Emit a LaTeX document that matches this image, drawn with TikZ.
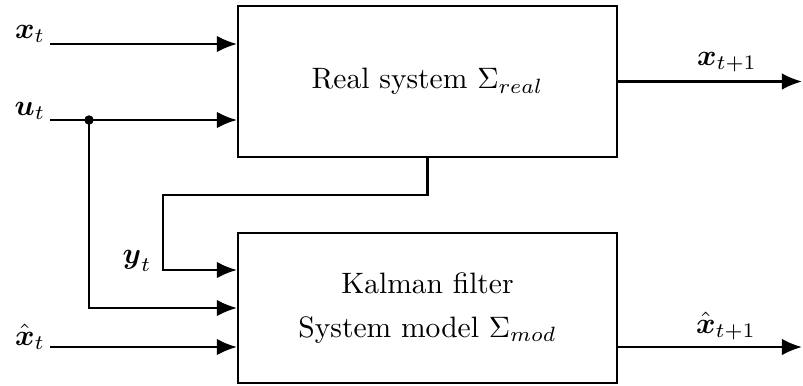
\documentclass[tikz,border=0pt]{standalone}
\usepackage{amsmath}
\usepackage{amssymb}
\usepackage{tikz}
\usetikzlibrary{arrows.meta}

\begin{document}
\begin{tikzpicture}[x=0.0119cm,y=-0.0119cm,line width=0.75pt,
    block/.style={draw,minimum width=4.51cm,minimum height=1.79cm},
    sig/.style={-{Latex[length=6.8pt,width=5.6pt]}}]
  \useasboundingbox (0,0) rectangle (803,385);
      % the two blocks
      \node[block] (real) at (427.5,81.5) {Real system $\Sigma_{real}$};
      \node[block,align=center] (kf) at (427.5,308) {Kalman filter\\[3pt] System model $\Sigma_{mod}$};
      % free ends of the signals
      \coordinate (xin) at (50,44);
      \coordinate (uin) at (50,120);
      \coordinate (usplit) at (89,120);
      \coordinate (ybend) at (163,195);
      \coordinate (yin) at (163,270);
      \coordinate (xhin) at (50,347);
      \coordinate (xout) at (802,81.5);
      \coordinate (xhout) at (802,347);
      % inputs
      \draw[sig] (xin) -- (xin -| real.west);
      \draw[sig] (uin) -- (uin -| real.west);
      \fill (usplit) circle (1.6pt);
      \draw[sig] (usplit) |- (kf.west);
      \draw[sig] (real.south) |- (ybend) -- (yin) -- (yin -| kf.west);
      \draw[sig] (xhin) -- (xhin -| kf.west);
      % outputs
      \draw[sig] (real.east) -- (xout);
      \draw[sig] (xhout -| kf.east) -- (xhout);
      % labels
      \node (lx) at (30,34) {$\boldsymbol{x}_t$};
      \node (lu) at (30,111) {$\boldsymbol{u}_t$};
      \node (ly) at (137,261) {$\boldsymbol{y}_t$};
      \node (lxh) at (30,337) {$\hat{\boldsymbol{x}}_t$};
      \node (lxo) at (727,62) {$\boldsymbol{x}_{t+1}$};
      \node (lxho) at (726,326) {$\hat{\boldsymbol{x}}_{t+1}$};
\end{tikzpicture}
\end{document}
